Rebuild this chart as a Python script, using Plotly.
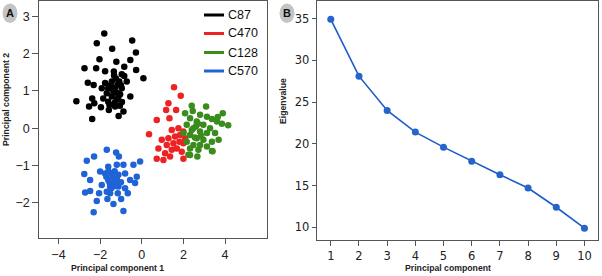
import plotly.graph_objects as go

# ---------------- Data ----------------
c87_x = [-1.80, -2.16, -0.46, -1.42, -0.28, -2.03, -0.55, -1.22, -2.75, -2.19, -0.84, -0.27, -1.76, -1.34,
         0.08, -2.59, -2.31, -0.84, -3.14, -2.53, -2.38, -1.96, -2.38, -1.11, -0.55, -0.95, -1.58, -2.28,
         -1.33, -0.96, -1.44, -1.08, -0.72, -1.76, -1.92, -1.61, -1.28, -0.96, -1.36, -1.68, -1.04, -1.44,
         -1.85, -1.20, -1.61, -1.28, -0.88, -1.24, -1.15, -1.50, -1.20, -1.30, -1.05, -1.40, -1.12, -1.55, -1.00]
c87_y = [2.54, 2.28, 2.35, 2.13, 2.03, 1.85, 1.83, 1.78, 1.61, 1.61, 1.65, 1.56, 1.53, 1.52,
         1.34, 1.22, 1.16, 1.40, 0.72, 0.58, 0.80, 0.56, 0.25, 0.33, 0.85, 0.70, 0.49, 0.67,
         1.41, 1.45, 1.25, 1.25, 1.25, 1.21, 1.07, 1.07, 1.09, 1.07, 0.97, 0.94, 0.91, 0.85,
         0.80, 0.76, 0.71, 0.58, 0.45, 1.33, 1.17, 1.15, 0.95, 0.68, 0.60, 1.05, 0.85, 0.62, 1.15]

c470_x = [1.55, 1.87, 1.28, 1.17, 1.65, 0.72, 1.33, 0.35, 1.44, 1.76, 0.96, 1.28, 1.60, 1.84, 1.20,
          1.52, 1.68, 0.80, 1.44, 1.12, 1.92, 1.36, 0.72, 2.00, 1.04, 1.81, 2.00, 2.08, 2.00]
c470_y = [1.10, 0.87, 0.67, 0.49, 0.49, 0.22, 0.27, -0.16, -0.05, 0.00, -0.31, -0.27, -0.22, -0.18, -0.45,
          -0.40, -0.54, -0.54, -0.58, -0.67, -0.63, -0.76, -0.82, -0.82, -0.85, -0.36, -0.40, -0.27, -0.09]

c128_x = [2.08, 2.45, 2.80, 3.13, 3.37, 3.61, 2.32, 2.64, 2.96, 3.28, 2.16, 2.48, 2.80, 3.13, 3.52,
          2.00, 2.32, 2.64, 2.96, 3.37, 2.16, 2.48, 2.80, 3.13, 2.32, 2.72, 3.37, 2.32, 2.67,
          2.40, 3.09, 3.89, 3.65, 4.15, 3.85, 3.69, 3.40, 2.24, 2.60, 2.85, 2.55, 2.40, 2.70]
c128_y = [0.40, 0.46, 0.36, 0.31, 0.25, 0.18, 0.27, 0.18, 0.09, 0.00, 0.09, 0.00, -0.09, -0.13, -0.13,
          -0.13, -0.18, -0.27, -0.31, -0.36, -0.36, -0.45, -0.45, -0.49, -0.54, -0.58, -0.61, -0.72, -0.76,
          0.60, 0.58, 0.40, 0.30, 0.08, 0.12, -0.31, -0.62, -0.71, 0.05, -0.20, -0.25, -0.05, 0.12]

c570_x = [-2.64, -1.61, -1.20, -0.88, -0.40, -0.08, -2.76, -2.00, -1.76, -1.44, -1.12, -0.80, -0.24,
          -2.48, -1.61, -1.28, -0.56, -0.32, -1.92, -1.52, -1.12, -0.80, -2.72, -2.48, -2.05, -1.68,
          -1.52, -1.15, -0.67, -2.16, -1.65, -1.36, -0.99, -2.31, -0.88,
          -1.40, -1.30, -1.55, -1.20, -1.45, -1.70, -1.00, -1.35, -1.60, -1.25,
          -1.68, -1.23, -1.10, -2.29]
c570_y = [-0.87, -1.03, -0.98, -0.98, -0.98, -0.89, -1.23, -1.16, -1.21, -1.21, -1.25, -1.21, -1.30,
          -1.39, -1.39, -1.43, -1.39, -1.47, -1.52, -1.56, -1.56, -1.61, -1.72, -1.68, -1.74, -1.70,
          -1.74, -1.74, -1.74, -1.95, -1.90, -2.03, -1.90, -2.25, -2.22,
          -1.30, -1.15, -1.45, -1.35, -1.60, -1.30, -1.45, -1.50, -1.15, -1.55,
          -0.58, -0.65, -0.76, -0.76]

pc = [1, 2, 3, 4, 5, 6, 7, 8, 9, 10]
eigen = [34.9, 28.1, 24.0, 21.4, 19.6, 17.9, 16.3, 14.7, 12.4, 9.9]

groups = ["C87", "C470", "C128", "C570"]
colors = ["#000000", "#ee2222", "#3a8c1c", "#1f63d6"]

W, H = 602, 276
def px(x):
    return x / W
def py(y):
    return 1 - y / H

fig = go.Figure()
for name, xs, ys, col in zip(groups, [c87_x, c470_x, c128_x, c570_x],
                             [c87_y, c470_y, c128_y, c570_y], colors):
    fig.add_trace(go.Scatter(x=xs, y=ys, mode="markers", name=name, showlegend=False,
                             marker=dict(color=col, size=6.5, line=dict(width=0)),
                             xaxis="x", yaxis="y"))

fig.add_trace(go.Scatter(x=pc, y=eigen, mode="lines+markers", showlegend=False,
                         line=dict(color="#1f5cc8", width=1.6),
                         marker=dict(color="#2464cc", size=7),
                         xaxis="x2", yaxis="y2"))

tickfontA = dict(family="Liberation Sans, Arial, sans-serif", size=12.5, color="#222")
tickfontB = dict(family="DejaVu Sans, sans-serif", size=11.5, color="#222")
framecol = "#555555"

fig.update_layout(
    width=W, height=H, margin=dict(l=0, r=0, t=0, b=0),
    paper_bgcolor="white", plot_bgcolor="white",
    xaxis=dict(domain=[px(39.3), px(266.7)], range=[-4.92, 6.0], tickvals=[-4, -2, 0, 2, 4],
               ticks="outside", ticklen=5, tickcolor=framecol, showline=True, mirror=True,
               linecolor=framecol, linewidth=1.2, showgrid=False, zeroline=False, tickfont=tickfontA),
    yaxis=dict(domain=[py(238.3), py(1)], range=[-2.95, 3.41], tickvals=[-2, -1, 0, 1, 2, 3],
               ticks="outside", ticklen=6, tickcolor=framecol, showline=True, mirror=True,
               linecolor=framecol, linewidth=1.2, showgrid=False, zeroline=False, tickfont=tickfontA),
    xaxis2=dict(domain=[px(316.7), px(597.7)], range=[0.5, 10.47], tickvals=pc,
                ticks="outside", ticklen=5, tickcolor=framecol, showline=True, mirror=True,
                linecolor=framecol, linewidth=1.2, showgrid=False, zeroline=False, tickfont=tickfontB,
                anchor="y2"),
    yaxis2=dict(domain=[py(240), py(1)], range=[8.48, 37.1], tickvals=[10, 15, 20, 25, 30, 35],
                ticks="outside", ticklen=4, tickcolor=framecol, showline=True, mirror=True,
                linecolor=framecol, linewidth=1.2, showgrid=False, zeroline=False, tickfont=tickfontB,
                anchor="x2"),
)

titlefont = dict(family="Liberation Sans Narrow, Arial Narrow, Liberation Sans, Arial", size=8.7, color="#222")
annots = [
    dict(text="<b>Principal component 1</b>", x=px(117), y=py(268), textangle=0),
    dict(text="<b>Principal component 2</b>", x=px(6), y=py(100), textangle=-90),
    dict(text="<b>Eigenvalue</b>", x=px(283), y=py(101), textangle=-90),
    dict(text="<b>Principal component</b>", x=px(448), y=py(268), textangle=0),
]
for a in annots:
    fig.add_annotation(xref="paper", yref="paper", showarrow=False, font=titlefont,
                       xanchor="center", yanchor="middle", **a)

# panel labels
for lab, cx in [("A", 10), ("B", 287)]:
    fig.add_shape(type="circle", xref="paper", yref="paper", x0=px(cx - 7.5), x1=px(cx + 7.5),
                  y0=py(23), y1=py(3.5), fillcolor="#c4c4c4", line=dict(width=0), layer="below")
    fig.add_annotation(xref="paper", yref="paper", x=px(cx), y=py(13.5), text="<b>%s</b>" % lab,
                       showarrow=False, xanchor="center", yanchor="middle",
                       font=dict(family="Liberation Sans, Arial", size=11, color="#111"))

# legend (drawn manually)
leg_y = [15, 33.5, 52.5, 71]
for name, col, ly in zip(groups, colors, leg_y):
    fig.add_shape(type="line", xref="paper", yref="paper", x0=px(204), x1=px(224),
                  y0=py(ly), y1=py(ly), line=dict(color=col, width=3))
    fig.add_annotation(xref="paper", yref="paper", x=px(226), y=py(ly), text=name, showarrow=False,
                       xanchor="left", yanchor="middle",
                       font=dict(family="Liberation Sans, Arial", size=12.5, color="#111"))

fig.write_html("out.html")
